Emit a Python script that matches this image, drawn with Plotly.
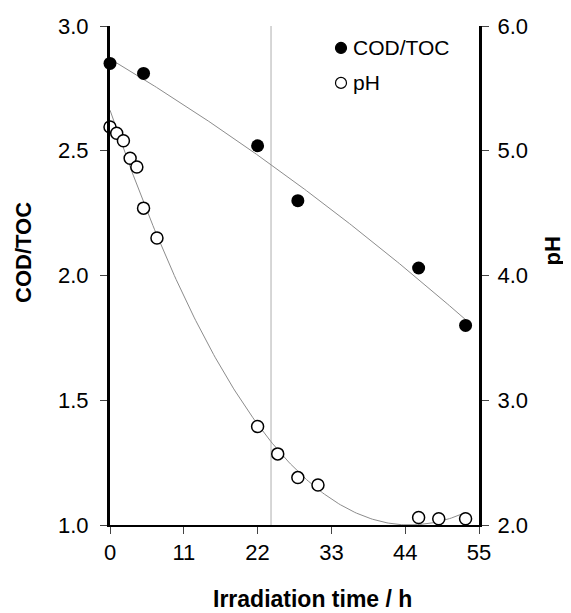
import numpy as np
import plotly.graph_objects as go

# Data
cod_time = [0, 5, 22, 28, 46, 53]
cod_toc = [2.85, 2.81, 2.52, 2.30, 2.03, 1.80]
ph_time = [0, 1, 2, 3, 4, 5, 7, 22, 25, 28, 31, 46, 49, 53]
ph_vals = [5.19, 5.14, 5.08, 4.94, 4.87, 4.54, 4.30, 2.79, 2.57, 2.38, 2.32, 2.06, 2.05, 2.05]
x_ticks = [0, 11, 22, 33, 44, 55]
y1_ticks = [1.0, 1.5, 2.0, 2.5, 3.0]
y2_ticks = [2.0, 3.0, 4.0, 5.0, 6.0]
series_names = ["COD/TOC", "pH"]
marker_line_x = 24

# Trendlines (polynomial fits of the data)
xs = np.linspace(0, 53, 200)
cod_fit = np.polyval(np.polyfit(cod_time, cod_toc, 2), xs)
ph_fit = np.polyval(np.polyfit(ph_time, ph_vals, 3), xs)

FONT = "Liberation Sans, Arial, sans-serif"
fig = go.Figure()

fig.add_trace(go.Scatter(x=xs, y=cod_fit, mode="lines", line=dict(color="#8c8c8c", width=1),
                         showlegend=False, hoverinfo="skip"))
fig.add_trace(go.Scatter(x=xs, y=ph_fit, mode="lines", line=dict(color="#8c8c8c", width=1),
                         showlegend=False, hoverinfo="skip", yaxis="y2"))
fig.add_trace(go.Scatter(x=cod_time, y=cod_toc, mode="markers", name=series_names[0], cliponaxis=False,
                         showlegend=False,
                         marker=dict(symbol="circle", size=13, color="black")))
fig.add_trace(go.Scatter(x=ph_time, y=ph_vals, mode="markers", name=series_names[1], cliponaxis=False,
                         yaxis="y2", showlegend=False,
                         marker=dict(symbol="circle", size=12, color="white",
                                     line=dict(color="black", width=1.5))))

fig.add_shape(type="line", x0=marker_line_x, x1=marker_line_x, y0=0, y1=1, xref="x", yref="paper",
              line=dict(color="#9a9a9a", width=0.8), layer="below")

# Legend (drawn manually to match the original's compact layout)
leg_x, leg_text_x = 0.626, 0.654
leg_y = [0.956, 0.886]
fills = ["black", "white"]
for name, yy, fc in zip(series_names, leg_y, fills):
    fig.add_shape(type="circle", xref="paper", yref="paper", xsizemode="pixel", ysizemode="pixel",
                  xanchor=leg_x, yanchor=yy, x0=-5.5, x1=5.5, y0=-5.5, y1=5.5,
                  fillcolor=fc, line=dict(color="black", width=1.2))
    fig.add_annotation(x=leg_text_x, y=yy, xref="paper", yref="paper", text=name, showarrow=False,
                       xanchor="left", yanchor="middle", font=dict(family=FONT, size=21, color="black"))

# Axis titles
title_font = dict(family=FONT, size=22, color="black")
fig.add_annotation(x=0.55, y=-0.149, xref="paper", yref="paper", text="<b>Irradiation time / h</b>",
                   showarrow=False, xanchor="center", yanchor="middle", font=dict(family=FONT, size=23))
fig.add_annotation(x=-0.236, y=0.547, xref="paper", yref="paper", text="<b>COD/TOC</b>",
                   showarrow=False, textangle=-90, xanchor="center", yanchor="middle", font=title_font)
fig.add_annotation(x=1.2005, y=0.55, xref="paper", yref="paper", text="<b>pH</b>",
                   showarrow=False, textangle=-90, xanchor="center", yanchor="middle", font=title_font)

tick_common = dict(showgrid=False, zeroline=False, showline=True, linecolor="black",
                   ticks="outside", ticklen=7, tickwidth=1, tickcolor="#444", automargin=False,
                   tickfont=dict(family=FONT, size=22, color="black"))

# The page adds an 8px body margin, so the figure is offset accordingly
fig.update_layout(
    width=563, height=605,
    margin=dict(l=102, r=92, t=18, b=88),
    plot_bgcolor="white", paper_bgcolor="white",
    font=dict(family=FONT, color="black"),
    showlegend=False,
    xaxis=dict(range=[0, 55], tickvals=x_ticks, linewidth=1.7, **tick_common),
    yaxis=dict(range=[1.0, 3.0], tickvals=y1_ticks, tickformat=".1f", linewidth=3,
               ticklabelstandoff=7, **tick_common),
    yaxis2=dict(range=[2.0, 6.0], tickvals=y2_ticks, tickformat=".1f", overlaying="y", side="right",
                linewidth=3, ticklabelstandoff=4, **tick_common),
)

fig.write_html("out.html")
